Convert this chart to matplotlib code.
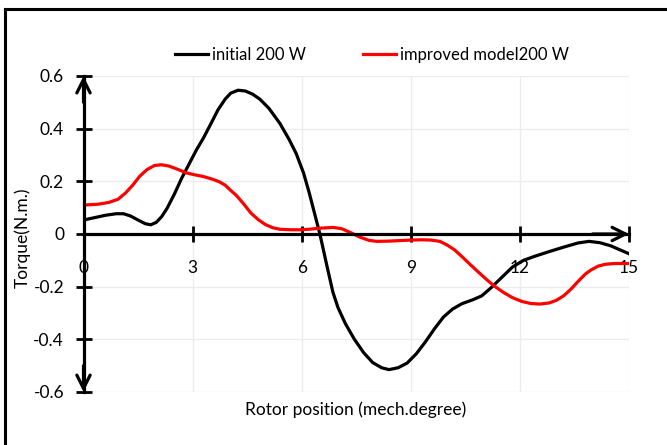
import matplotlib
matplotlib.use("Agg")
import matplotlib.pyplot as plt
from matplotlib.lines import Line2D

plt.rcParams['font.family'] = ['Lato', 'DejaVu Sans']

# ---- data ----
x_initial = [0, 0.3, 0.6, 0.9, 1.1, 1.3, 1.5, 1.7, 1.85, 2.0, 2.15, 2.3, 2.5, 2.7, 2.9,
             3.1, 3.3, 3.5, 3.7, 3.9, 4.05, 4.25, 4.45, 4.65, 4.85, 5.1, 5.4, 5.65,
             5.85, 6.05, 6.2, 6.35, 6.5, 6.7, 6.86, 7.0, 7.2, 7.45, 7.7, 7.95, 8.2,
             8.4, 8.65, 8.9, 9.15, 9.4, 9.65, 9.9, 10.15, 10.4, 10.7, 10.95, 11.2,
             11.5, 11.8, 12.1, 12.4, 12.8, 13.2, 13.6, 13.9, 14.2, 14.5, 14.8, 15.0]
y_initial = [0.053, 0.062, 0.071, 0.077, 0.077, 0.068, 0.053, 0.039, 0.035, 0.044,
             0.066, 0.098, 0.152, 0.212, 0.265, 0.318, 0.365, 0.418, 0.472, 0.513,
             0.535, 0.546, 0.543, 0.531, 0.512, 0.477, 0.420, 0.360, 0.305, 0.232,
             0.160, 0.080, 0.000, -0.125, -0.222, -0.280, -0.340, -0.400, -0.450,
             -0.488, -0.508, -0.515, -0.508, -0.490, -0.455, -0.410, -0.360, -0.315,
             -0.285, -0.265, -0.250, -0.235, -0.205, -0.165, -0.125, -0.100, -0.085,
             -0.067, -0.050, -0.034, -0.028, -0.033, -0.045, -0.063, -0.075]

x_improved = [0, 0.4, 0.7, 0.95, 1.15, 1.35, 1.55, 1.75, 1.95, 2.14, 2.35, 2.6, 2.83,
              3.05, 3.3, 3.55, 3.74, 3.9, 4.05, 4.2, 4.4, 4.6, 4.8, 5.0, 5.2, 5.4, 5.7,
              5.95, 6.2, 6.5, 6.86, 7.1, 7.35, 7.6, 7.85, 8.06, 8.4, 8.7, 9.0, 9.3,
              9.55, 9.8, 10.0, 10.2, 10.4, 10.65, 10.9, 11.1, 11.3, 11.55, 11.8, 12.05,
              12.3, 12.55, 12.8, 13.0, 13.2, 13.4, 13.6, 13.8, 13.95, 14.15, 14.35,
              14.6, 15.0]
y_improved = [0.110, 0.113, 0.120, 0.132, 0.155, 0.185, 0.220, 0.245, 0.260, 0.263,
              0.258, 0.245, 0.232, 0.225, 0.218, 0.208, 0.198, 0.185, 0.165, 0.147,
              0.115, 0.080, 0.055, 0.036, 0.024, 0.018, 0.016, 0.016, 0.018, 0.022,
              0.025, 0.020, 0.005, -0.012, -0.024, -0.028, -0.027, -0.025, -0.023,
              -0.022, -0.023, -0.028, -0.042, -0.060, -0.085, -0.118, -0.150, -0.175,
              -0.198, -0.222, -0.242, -0.256, -0.264, -0.266, -0.262, -0.252, -0.235,
              -0.210, -0.180, -0.152, -0.137, -0.122, -0.115, -0.112, -0.112]

x_ticks = [0, 3, 6, 9, 12, 15]
y_ticks = [-0.6, -0.4, -0.2, 0, 0.2, 0.4, 0.6]
y_tick_labels = ['-0.6', '-0.4', '-0.2', '0', '0.2', '0.4', '0.6']
label_initial = 'initial 200 W'
label_improved = 'improved model200 W'
x_label = 'Rotor position (mech.degree)'
y_label = 'Torque(N.m.)'

# ---- figure ----
fig = plt.figure(figsize=(6.67, 4.45), dpi=100)
ax = fig.add_axes([83.5 / 667, 1 - 392 / 445, (629 - 83.5) / 667, (392 - 76) / 445])

xmin, xmax = x_ticks[0], x_ticks[-1]
ymin, ymax = y_ticks[0], y_ticks[-1]
ax.set_xlim(xmin, xmax)
ax.set_ylim(ymin, ymax)

# grid
for xv in x_ticks[1:]:
    ax.axvline(xv, color='#ececec', lw=1.0, zorder=0)
for yv in y_ticks:
    if yv != 0:
        ax.axhline(yv, color='#ececec', lw=1.0, zorder=0)

ax.plot(x_initial, y_initial, color='black', lw=2.3, label=label_initial, zorder=3,
        solid_joinstyle='round')
ax.plot(x_improved, y_improved, color='#ff0000', lw=2.3, label=label_improved, zorder=3,
        solid_joinstyle='round')

# axes through origin
for s in ['top', 'right']:
    ax.spines[s].set_visible(False)
ax.spines['left'].set_position(('data', 0))
ax.spines['bottom'].set_position(('data', 0))
ax.spines['left'].set_linewidth(2.3)
ax.spines['bottom'].set_linewidth(2.3)
ax.spines['left'].set_zorder(4)
ax.spines['bottom'].set_zorder(4)

ax.set_xticks(x_ticks)
ax.set_xticklabels([str(v) for v in x_ticks])
ax.set_yticks(y_ticks)
ax.set_yticklabels(y_tick_labels)
ax.tick_params(axis='both', direction='inout', length=12, width=2.0, labelsize=12.5,
               colors='black')
ax.tick_params(axis='x', pad=13)
ax.tick_params(axis='y', pad=8)

arrow_kw = dict(arrowstyle='->', lw=2.3, mutation_scale=24, shrinkA=0, shrinkB=0,
                color='black')
ax.annotate('', xy=(0, ymax), xytext=(0, ymax - 0.1), arrowprops=arrow_kw, zorder=5)
ax.annotate('', xy=(0, ymin), xytext=(0, ymin + 0.1), arrowprops=arrow_kw, zorder=5)
ax.annotate('', xy=(xmax, 0), xytext=(xmax - 1, 0), arrowprops=arrow_kw, zorder=5)

fig.text(356 / 667, 1 - 410 / 445, x_label, ha='center', va='center', fontsize=12.5)
fig.text(22 / 667, 1 - 238 / 445, y_label, ha='center', va='center', fontsize=12.5,
         rotation=90)

fig.legend(loc='center', bbox_to_anchor=(372 / 667, 1 - 55 / 445), ncol=2, frameon=False,
           fontsize=12, handlelength=2.0, columnspacing=3.4, handletextpad=0.25)

# outer border (left & top visible in reference)
fig.add_artist(Line2D([5 / 667, 5 / 667], [0, 1 - 9 / 445], transform=fig.transFigure,
                      color='black', lw=2.2))
fig.add_artist(Line2D([5 / 667, 1], [1 - 9 / 445, 1 - 9 / 445], transform=fig.transFigure,
                      color='black', lw=2.2))

fig.savefig('out.png', dpi=100)
